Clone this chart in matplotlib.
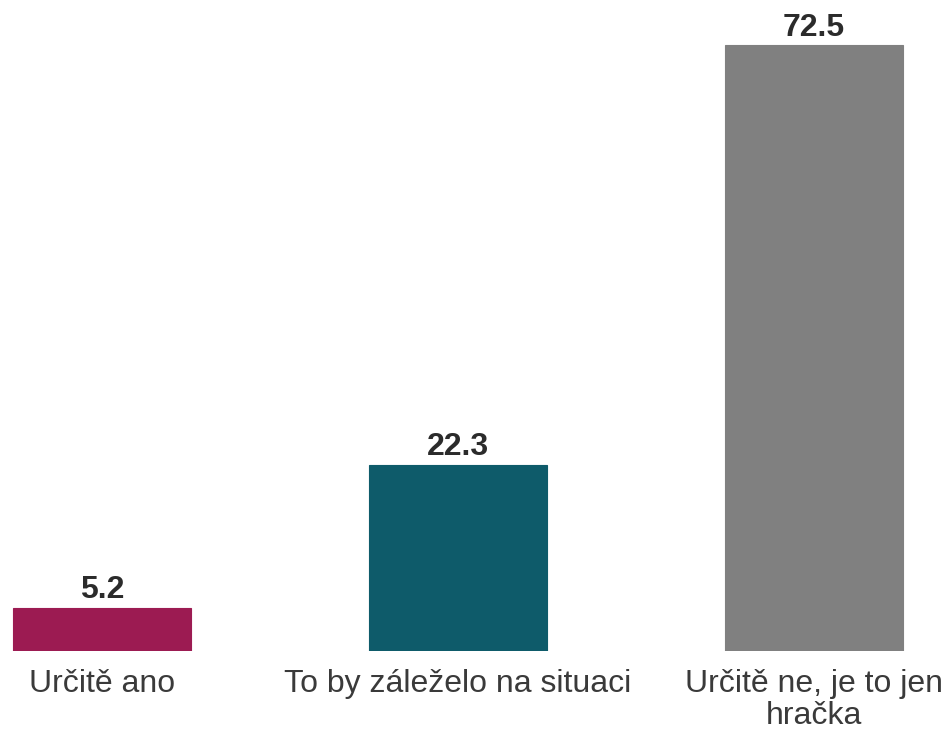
import matplotlib
matplotlib.use("Agg")
import matplotlib.pyplot as plt

categories = ["Určitě ano", "To by záleželo na situaci", "Určitě ne, je to jen\nhračka"]
values = [5.2, 22.3, 72.5]
colors = ["#9c1b52", "#0e5b6a", "#808080"]

plt.rcParams["font.family"] = ["Liberation Sans", "DejaVu Sans"]

fig = plt.figure(figsize=(9.47, 7.35), dpi=100)
ax = fig.add_axes([0, 84 / 735, 1, 651 / 735])

x = list(range(len(categories)))
bars = ax.bar(x, values, width=0.5, color=colors, edgecolor=colors, linewidth=0.8)

for b, v in zip(bars, values):
    ax.annotate(f"{v:.1f}", (b.get_x() + b.get_width() / 2, v),
                xytext=(0, 1.5), textcoords="offset points",
                ha="center", va="bottom", fontsize=23, fontweight="bold",
                color="#2b2b2b")

ax.set_xlim(-102 / 356, (947 - 102) / 356)
ax.set_ylim(0, 651 / 8.36)
ax.set_xticks(x)
ax.set_xticklabels(categories, fontsize=23, color="#3a3a3a", linespacing=1.1)
ax.tick_params(axis="x", length=0, pad=13)
ax.set_yticks([])
for s in ax.spines.values():
    s.set_visible(False)

fig.savefig("out.png", dpi=100, facecolor="white")
